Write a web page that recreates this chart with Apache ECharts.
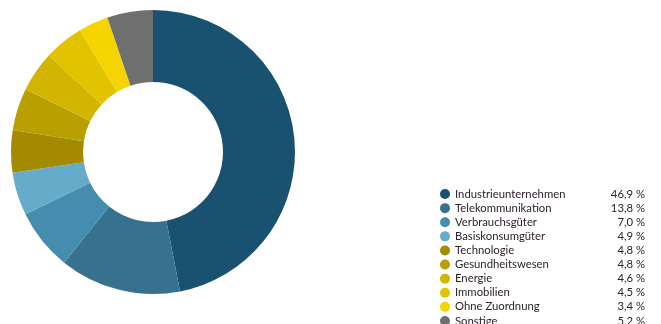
<!DOCTYPE html>
<html>
<head>
<meta charset="utf-8">
<style>
  html, body { margin: 0; padding: 0; background: #fff; }
  #container { width: 661px; height: 324px; }
</style>
<script src="https://cdn.jsdelivr.net/npm/echarts@6/dist/echarts.min.js"></script>
</head>
<body>
<div id="container"></div>
<script>
// Branchenaufteilung
var sectors = ['Industrieunternehmen', 'Telekommunikation', 'Verbrauchsgüter', 'Basiskonsumgüter',
  'Technologie', 'Gesundheitswesen', 'Energie', 'Immobilien', 'Ohne Zuordnung', 'Sonstige'];
var shares = [46.9, 13.8, 7.0, 4.9, 4.8, 4.8, 4.6, 4.5, 3.4, 5.2];
var colors = ['#195270', '#36728e', '#458dae', '#67abcb', '#a48a00', '#b9a000',
  '#d1b500', '#e2c300', '#f5d400', '#6f6f6f'];

var fmt = function (v) {
  return v.toFixed(1).replace('.', ',') + ' %';
};

var dom = document.getElementById('container');
var myChart = echarts.init(dom);
var txt = { fontFamily: 'Lato', fontSize: 11.3, color: '#2e222e', lineHeight: 14.1 };
var option = {
  color: colors,
  animation: false,
  legend: {
    orient: 'vertical',
    left: 440,
    top: 187,
    height: 300,
    padding: 0,
    icon: 'circle',
    itemWidth: 10,
    itemHeight: 10,
    itemGap: 0,
    data: sectors,
    formatter: function (name) {
      var i = sectors.indexOf(name);
      return '{n|' + name + '}{v|' + fmt(shares[i]) + '}';
    },
    textStyle: {
      fontFamily: txt.fontFamily,
      fontSize: txt.fontSize,
      color: txt.color,
      lineHeight: txt.lineHeight,
      rich: {
        n: Object.assign({ width: 150 }, txt),
        v: Object.assign({ width: 40, align: 'right' }, txt)
      }
    }
  },
  series: [{
    name: 'Branchen',
    type: 'pie',
    center: [153, 152],
    radius: [70, 142],
    startAngle: 90,
    clockwise: true,
    label: { show: false },
    labelLine: { show: false },
    emphasis: { disabled: true },
    data: sectors.map(function (s, i) {
      return { name: s, value: shares[i] };
    })
  }]
};

if (option && typeof option === 'object') {
  myChart.setOption(option, true);
}
</script>
</body>
</html>
